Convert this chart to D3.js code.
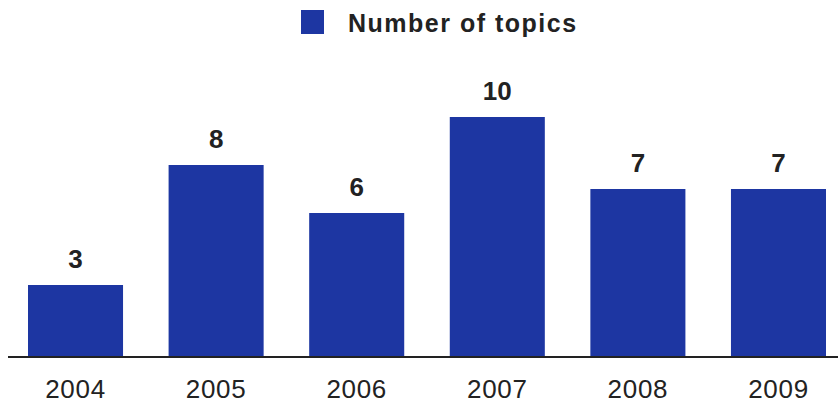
<!DOCTYPE html>
<html>
<head>
<meta charset="utf-8">
<script src="https://cdn.jsdelivr.net/npm/d3@7"></script>
<style>
  body { margin: 0; background: #fff; }
  text { font-family: "Liberation Sans", Arial, Helvetica, sans-serif; fill: #222; }
</style>
</head>
<body>
<div id="chart"></div>
<script>
// data
var years = ["2004", "2005", "2006", "2007", "2008", "2009"];
var topics = [3, 8, 6, 10, 7, 7];
var seriesName = "Number of topics";

// SETUP
var width = 838,
    height = 404,
    baseY = 357;

var barColor = "#1d36a2";

var svg = d3.select("#chart").append("svg")
    .attr("width", width)
    .attr("height", height);

var x = d3.scaleBand()
    .domain(years)
    .range([28, 826])
    .paddingInner(0.324)
    .paddingOuter(0);

var y = d3.scaleLinear()
    .domain([0, 10])
    .range([baseY, 117]);

// bars
svg.selectAll("rect.bar")
  .data(topics)
  .enter().append("rect")
    .attr("class", "bar")
    .attr("x", function(d, i) { return x(years[i]); })
    .attr("y", function(d) { return y(d); })
    .attr("width", x.bandwidth())
    .attr("height", function(d) { return baseY - y(d); })
    .style("fill", barColor);

// value labels
svg.selectAll("text.val")
  .data(topics)
  .enter().append("text")
    .attr("class", "val")
    .attr("x", function(d, i) { return x(years[i]) + x.bandwidth() / 2; })
    .attr("y", function(d) { return y(d) - 17; })
    .attr("text-anchor", "middle")
    .style("font-size", "26px")
    .style("font-weight", "bold")
    .text(function(d) { return d; });

// baseline axis
var xAxis = d3.axisBottom(x).tickSize(0).tickPadding(23);
var gx = svg.append("g")
    .attr("transform", "translate(0," + baseY + ")")
    .call(xAxis);
gx.select(".domain").remove();
gx.selectAll("text")
    .style("font-size", "26px")
    .style("letter-spacing", "0.7px")
    .style("fill", "#222");

svg.append("line")
    .attr("x1", 8).attr("x2", width)
    .attr("y1", baseY).attr("y2", baseY)
    .style("stroke", "#222")
    .style("stroke-width", 2);

// legend
var legend = svg.append("g");
legend.append("rect")
    .attr("x", 301).attr("y", 10)
    .attr("width", 23).attr("height", 24)
    .style("fill", barColor);
legend.append("text")
    .attr("x", 348).attr("y", 32)
    .style("font-size", "25px")
    .style("font-weight", "bold")
    .style("letter-spacing", "1.5px")
    .text(seriesName);
</script>
</body>
</html>
